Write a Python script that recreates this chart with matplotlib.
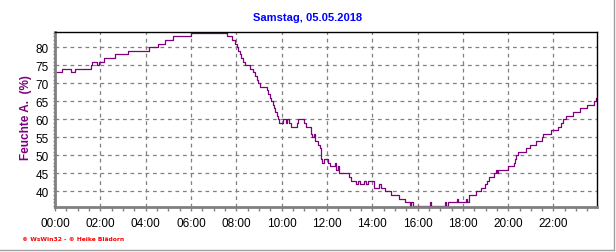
import matplotlib
matplotlib.use('agg')
import matplotlib.pyplot as plt
from matplotlib.ticker import MultipleLocator, FuncFormatter
from matplotlib.lines import Line2D

# Zeitpunkte (Stunden) und Feuchte-Werte (%), Stufen-Verlauf
hours = [0.0, 0.33, 0.72, 0.9, 1.6, 1.65, 1.84, 1.92, 2.18, 2.65, 3.24, 4.16,
         4.53, 4.85, 5.22, 6.0, 7.6, 7.8, 7.95, 8.02, 8.08, 8.15, 8.2, 8.3,
         8.4, 8.6, 8.75, 8.82, 8.9, 8.98, 9.06, 9.35, 9.42, 9.5, 9.55, 9.6,
         9.66, 9.72, 9.78, 9.84, 9.9, 10.06, 10.2, 10.25, 10.33, 10.42, 10.66,
         10.74, 11.0, 11.09, 11.3, 11.36, 11.42, 11.48, 11.62, 11.68, 11.72,
         11.76, 11.8, 11.86, 12.07, 12.12, 12.37, 12.4, 12.5, 12.55, 12.98,
         13.08, 13.3, 13.38, 13.45, 13.65, 13.72, 13.82, 14.1, 14.3, 14.38,
         14.55, 14.85, 15.2, 15.45, 15.65, 15.72, 15.78, 16.53, 16.58, 17.2,
         17.26, 17.33, 17.75, 17.8, 18.13, 18.2, 18.28, 18.58, 18.82, 18.97,
         19.05, 19.15, 19.37, 19.45, 19.5, 19.55, 19.98, 20.26, 20.3, 20.36,
         20.45, 20.8, 20.98, 21.24, 21.5, 21.55, 21.9, 22.18, 22.33, 22.4,
         22.56, 22.85, 23.15, 23.5, 23.78, 23.88, 23.92]
humidity = [73, 74, 73, 74, 75, 76, 75, 76, 77, 78, 79, 80,
            81, 82, 83, 84, 83, 82, 81, 80, 79, 78, 77, 76,
            75, 74, 73, 72, 71, 70, 69, 68, 67, 66, 65, 64,
            63, 62, 61, 60, 59, 60, 59, 60, 59, 58, 59,
            60, 59, 58, 56, 55, 56, 54, 53, 52, 50,
            49, 48, 49, 48, 47, 48, 46, 47, 45, 44,
            43, 42, 43, 42, 43, 42, 43, 41, 42, 41,
            40, 39, 38, 37, 36, 37, 36, 37, 36, 37,
            36, 37, 38, 37, 38, 37, 39, 40, 41, 42,
            43, 44, 45, 46, 45, 46, 47, 48, 49, 50,
            51, 52, 53, 54, 55, 56, 57, 58, 59, 60,
            61, 62, 63, 64, 65, 66, 66]

title = "Samstag, 05.05.2018"
ylabel = "Feuchte A.  (%)"
footer = "\u00a9 WsWin32 - \u00a9 Heike Bl\u00e4dorn"

plt.rcParams['font.family'] = ['Liberation Sans', 'DejaVu Sans']

fig = plt.figure(figsize=(6.16, 2.53), dpi=100)
ax = fig.add_axes([55 / 616, 45 / 253, 542 / 616, 175 / 253])

ax.plot(hours, humidity, drawstyle='steps-post', color='#800080', linewidth=0.9)

ax.set_xlim(0, 23.92)
ax.set_ylim(35.7, 84.2)

ax.xaxis.set_major_locator(MultipleLocator(2))
ax.xaxis.set_minor_locator(MultipleLocator(0.5))
ax.yaxis.set_major_locator(MultipleLocator(5))
ax.yaxis.set_minor_locator(MultipleLocator(1))
ax.xaxis.set_major_formatter(FuncFormatter(lambda v, p: f"{int(round(v)):02d}:00"))

ax.grid(True, which='major', color='#808080', linestyle=(0, (3, 3)), linewidth=0.9)
ax.set_axisbelow(True)

ax.tick_params(axis='x', which='both', direction='out', length=3, width=1,
               color='#808080', labelsize=8.5, pad=4)
ax.tick_params(axis='y', which='both', direction='out', length=1.6, width=1,
               color='#808080', labelsize=8.5, pad=3)

for side in ['left', 'bottom']:
    ax.spines[side].set_color('#808080')
    ax.spines[side].set_linewidth(2)
for side in ['top', 'right']:
    ax.spines[side].set_color('black')
    ax.spines[side].set_linewidth(1)

fig.text(0.5, 1 - 18 / 253, title, ha='center', va='center', color='#0000ff',
         fontsize=8, fontweight='bold')
fig.text(26 / 616, 1 - 118 / 253, ylabel, ha='center', va='center', rotation=90,
         color='#800080', fontsize=8.5, fontweight='bold')
fig.text(22 / 616, 1 - 240 / 253, footer, ha='left', va='center', color='#ff0000',
         fontsize=4.3, fontweight='bold', family=['DejaVu Sans'])

# Rahmen rechts und unten
fig.add_artist(Line2D([614 / 616, 614 / 616], [2 / 253, 1], transform=fig.transFigure,
                      color='#a0a0a0', linewidth=1))
fig.add_artist(Line2D([0, 614 / 616], [2 / 253, 2 / 253], transform=fig.transFigure,
                      color='#a0a0a0', linewidth=1))

fig.savefig('out.png', dpi=100)
